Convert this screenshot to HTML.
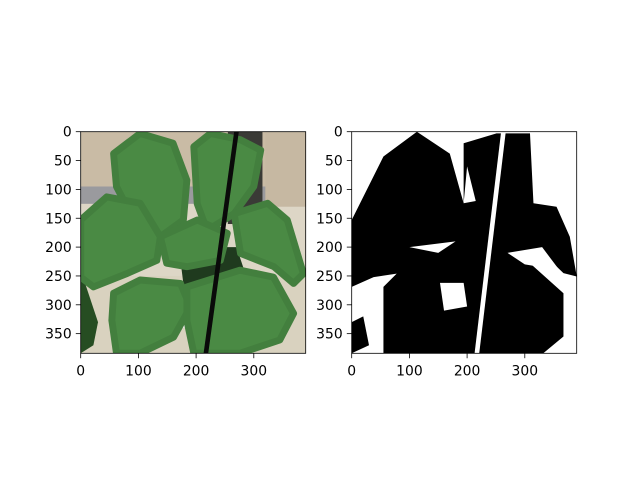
<!DOCTYPE html>
<html><head><meta charset="utf-8"><style>
body{margin:0;background:#fff;}
svg text{font-family:"DejaVu Sans","Liberation Sans",sans-serif;font-size:13.9px;fill:#000;}
</style></head><body>
<svg width="640" height="480" xmlns="http://www.w3.org/2000/svg">
<defs><clipPath id="imgclip"><rect x="0" y="0" width="390" height="384"/></clipPath></defs>
<rect width="640" height="480" fill="#fff"/>
<!-- LEFT IMAGE -->
<g transform="translate(80.7,131.7) scale(0.577)">
 <g clip-path="url(#imgclip)">
  <rect x="0" y="0" width="390" height="384" fill="#ddd6c6"/>
  <rect x="0" y="0" width="390" height="100" fill="#c9bba5"/>
  <rect x="0" y="95" width="390" height="30" fill="#9a9a9e"/>
  <rect x="255" y="0" width="60" height="160" fill="#3a3a36"/>
  <rect x="320" y="0" width="70" height="130" fill="#c6b8a2"/>
  <rect x="0" y="250" width="390" height="134" fill="#d9d2bf"/>
  <polygon points="0,240 30,330 22,370 0,384" fill="#264d22"/>
  <polygon points="170,200 270,200 290,260 180,280" fill="#1f3a1e"/>
  <polygon points="150,270 200,270 200,340 150,340" fill="#e6e6e6"/>
  <g fill="#4a8a44" stroke="#437f3e" stroke-width="12" stroke-linejoin="round">
    <polygon points="57,38 103,3 160,20 184,84 178,153 138,182 92,153 62,95"/>
    <polygon points="196,26 225,3 277,14 312,32 300,95 266,142 219,171 202,125"/>
    <polygon points="0,153 45,113 103,124 138,182 132,223 80,246 22,269 0,252"/>
    <polygon points="266,142 324,124 358,153 386,246 369,263 335,234 277,211"/>
    <polygon points="138,182 202,153 254,176 242,223 184,234 149,228"/>
    <polygon points="57,280 103,257 173,263 190,304 161,356 103,384 62,384 54,327"/>
    <polygon points="184,269 276,240 334,252 369,315 345,361 276,384 196,384 184,327"/>
  </g>
  <line x1="270" y1="0" x2="217" y2="384" stroke="#0a0a0a" stroke-width="8"/>
 </g>
</g>
<rect x="80.7" y="131.7" width="225" height="221.6" fill="none" stroke="#000" stroke-width="0.8"/>
<!-- RIGHT IMAGE -->
<g transform="translate(351.7,131.7) scale(0.577)">
 <g clip-path="url(#imgclip)">
  <rect x="0" y="0" width="390" height="384" fill="#fff"/>
  <polygon fill="#000" points="0,153 55,43 113,0 170,38 194,124 194,20 251,3 309,3 315,124 355,130 378,182 390,251 367,245 344,223 309,228 367,280 367,355 332,384 55,384 55,269 78,246 38,252 0,269"/>
  <polygon fill="#000" points="0,330 20,320 30,370 0,384"/>
  <polygon fill="#fff" points="153,262 194,262 200,303 160,310"/>
  <polygon fill="#fff" points="100,200 180,190 150,210"/>
  <polygon fill="#fff" points="270,210 330,200 360,240 300,230"/>
  <polygon fill="#fff" points="194,124 200,60 215,120"/>
  <line x1="263" y1="0" x2="217" y2="384" stroke="#fff" stroke-width="8"/>
 </g>
</g>
<rect x="351.7" y="131.7" width="225" height="221.6" fill="none" stroke="#000" stroke-width="0.8"/>
<g id="ticks"></g>
</svg>
<script>
const yTicks=[0,50,100,150,200,250,300,350];
const xTicks=[0,100,200,300];
const axesX=[80.7,351.7];
const top0=131.7, bottom0=353.3, k=0.577;
const g=document.getElementById('ticks');
const NS='http://www.w3.org/2000/svg';
axesX.forEach((ax,i)=>{
  yTicks.forEach(v=>{
    const y=top0+v*k;
    const l=document.createElementNS(NS,'line');
    l.setAttribute('x1',ax-4.9);l.setAttribute('x2',ax);l.setAttribute('y1',y);l.setAttribute('y2',y);l.setAttribute('stroke','#000');l.setAttribute('stroke-width','0.8');
    
    
    g.appendChild(l);
    const t=document.createElementNS(NS,'text');
    t.setAttribute('x',ax-9);t.setAttribute('y',y+5);t.setAttribute('text-anchor','end');t.textContent=v;
    
    
    g.appendChild(t);
  });
  xTicks.forEach(v=>{
    const x=ax+v*k;
    const l=document.createElementNS(NS,'line');
    l.setAttribute('x1',x);l.setAttribute('x2',x);l.setAttribute('y1',bottom0);l.setAttribute('y2',bottom0+4.9);l.setAttribute('stroke','#000');l.setAttribute('stroke-width','0.8');
    
    
    g.appendChild(l);
    const t=document.createElementNS(NS,'text');
    t.setAttribute('x',x);t.setAttribute('y',bottom0+22);t.setAttribute('text-anchor','middle');t.textContent=v;
    
    
    g.appendChild(t);
  });
});
</script>
</body></html>
